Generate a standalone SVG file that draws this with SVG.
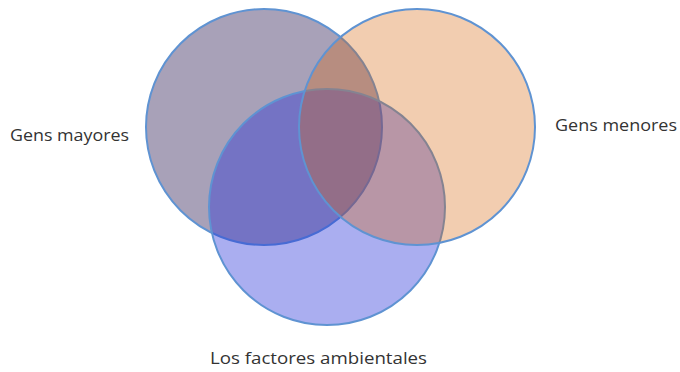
<svg xmlns="http://www.w3.org/2000/svg" width="680" height="372" viewBox="0 0 680 372">
<style>
.c{stroke:#5f93d2;stroke-width:2}
.t{font-family:"Open Sans","Liberation Sans",sans-serif;font-size:16px;fill:#333333}
</style>
<rect width="680" height="372" fill="#ffffff"/>
<g id="gens-mayores"><circle class="c" cx="264" cy="127" r="118" fill="#a8a1b8"/></g>
<g id="factores-ambientales"><circle class="c" cx="327" cy="207" r="118" fill="#1f2ad8" fill-opacity="0.38"/></g>
<g id="gens-menores"><circle class="c" cx="417" cy="127" r="118" fill="#d66308" fill-opacity="0.32"/></g>
<g id="labels">
<text class="t" x="10" y="141" textLength="119" lengthAdjust="spacingAndGlyphs">Gens mayores</text>
<text class="t" x="555" y="131" textLength="122" lengthAdjust="spacingAndGlyphs">Gens menores</text>
<text class="t" x="210" y="364" textLength="217" lengthAdjust="spacingAndGlyphs">Los factores ambientales</text>
</g>
<g id="connectors"></g>
</svg>
